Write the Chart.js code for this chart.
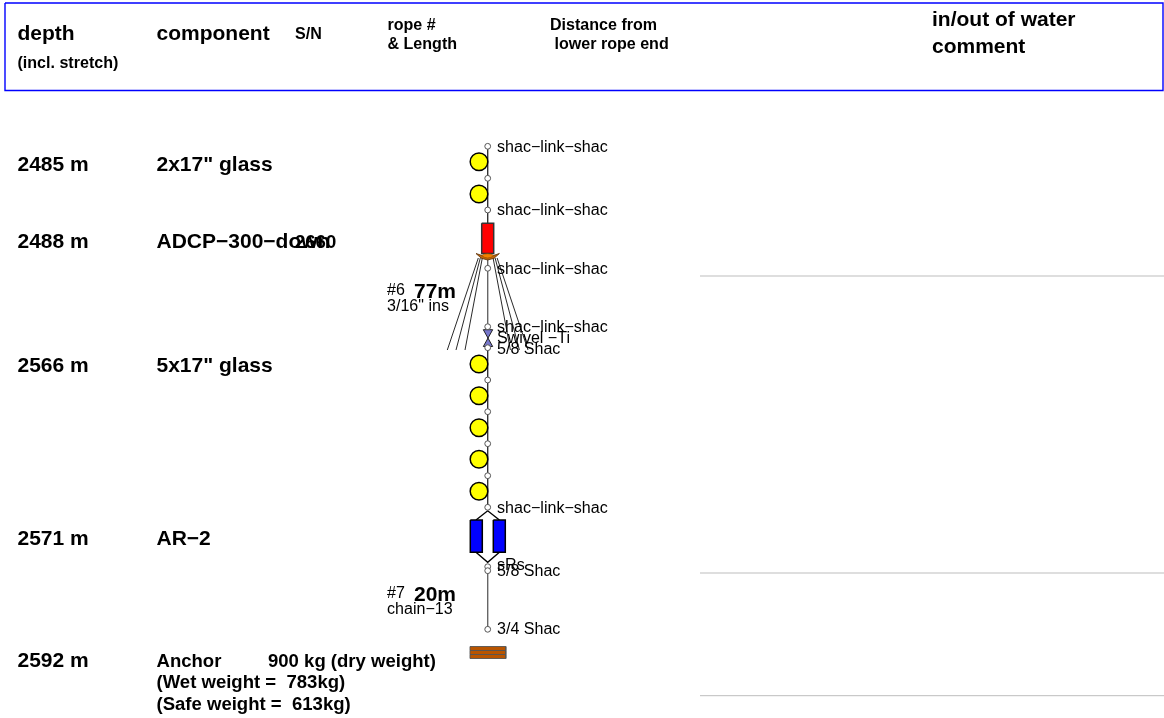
<!DOCTYPE html>
<html>
<head>
<meta charset="utf-8">
<title>Mooring diagram</title>
<script src="https://cdn.jsdelivr.net/npm/chart.js@4/dist/chart.umd.min.js"></script>
<style>
  html, body { margin: 0; padding: 0; background: #fff; }
  canvas { display: block; }
</style>
</head>
<body>
<canvas id="mooring" width="1164" height="718"></canvas>
<script>
'use strict';

// Drawing units along the sheet: x across, y downward
const LINE_X = 487.7;
const FLOAT_X = 479;

const shackleY = [146.3, 178.3, 210, 268.3, 326.7, 347.7, 380, 411.7, 443.7, 475.7, 507.3, 566.7, 570.7, 629.3];
const floatY = [161.7, 194, 364, 395.7, 427.7, 459.3, 491.3];

const ropeDarkY = [146, 223];
const ropeGreyY = [258, 347];
const ropeFloatY = [347, 507];
const ropeChainY = [570, 629];

const frameX = [5, 1163, 1163, 5, 5];
const frameY = [3, 3, 90.5, 90.5, 3];

const adcpX = [481.7, 493.7, 493.7, 481.7, 481.7];
const adcpY = [223.3, 223.3, 253.5, 253.5, 223.3];
const crescentX = [476, 482, 487.7, 493.4, 499.4, 494, 487.7, 481.4, 476];
const crescentY = [253.5, 255.5, 255.8, 255.5, 253.5, 258.3, 260, 258.3, 253.5];
const collarX = [481.5, 484.5, 487.7, 490.9, 493.9, 490.9, 487.7, 484.5, 481.5];
const collarY = [255.5, 254, 253.7, 254, 255.5, 257.4, 258, 257.4, 255.5];

const swivelX = [483.3, 492.7, 483.3, 492.7, 483.3];
const swivelY = [329.7, 329.7, 346.5, 346.5, 329.7];

const fanTopX = [478.3, 480.3, 482.3, 493.1, 495.1, 497.1];
const fanEndX = [447.3, 456, 465, 510.4, 519.4, 528];
const fanTopY = 258;
const fanEndY = 350;

const bridleTopX = [476, 487.7, 499.4];
const bridleTopY = [520, 510.8, 520];
const bridleLowX = [476, 487.7, 499.4];
const bridleLowY = [552.3, 562.3, 552.3];

const releaseLeftX = [470.3, 482.3, 482.3, 470.3, 470.3];
const releaseRightX = [493.3, 505.3, 505.3, 493.3, 493.3];
const releaseY = [520, 520, 552.3, 552.3, 520];

const anchorX = [470, 505.8, 505.8, 470, 470];
const anchorBarY = [[646.5, 646.5, 650.5, 650.5, 646.5], [650.5, 650.5, 654.5, 654.5, 650.5], [654.5, 654.5, 658.5, 658.5, 654.5]];

const ruleX = [700, 1164];
const ruleY = [276, 573, 695.7];

const depthLabels = ['2485 m', '2488 m', '2566 m', '2571 m', '2592 m'];
const depthRows = [164, 241, 365, 538, 660];
const componentLabels = ['2x17" glass', 'ADCP\u2212300\u2212down', '5x17" glass', 'AR\u22122'];
const componentRows = [164, 241, 365, 538];
const hardwareLabels = ['shac\u2212link\u2212shac', 'shac\u2212link\u2212shac', 'shac\u2212link\u2212shac', 'shac\u2212link\u2212shac', 'Swivel \u2212Ti', '5/8 Shac', 'shac\u2212link\u2212shac', 'sRs', '5/8 Shac', '3/4 Shac'];
const hardwareRows = [147, 210, 269, 327, 338, 349, 508, 565, 571, 629];
const anchorLabels = ['Anchor', '900 kg (dry weight)', '(Wet weight =  783kg)', '(Safe weight =  613kg)'];

const STRETCH = 1.03; // the sheet is a little wider than tall
const SANS = '"Liberation Sans", Arial, sans-serif';
const FONT_BIG = 20.4;
const FONT_MID = 18;
const FONT_SMALL = 15.6;
const TEXT_DY = 1.6;
const TEXT_DY_REGULAR = 0.6;

function pts(xs, ys) {
  return xs.map((x, i) => ({ x, y: ys[i] }));
}

function line(xs, ys, color, width) {
  return { data: pts(xs, ys), showLine: true, borderColor: color, borderWidth: width, pointRadius: 0, fill: false };
}

function shape(xs, ys, fill, border, width) {
  return { data: pts(xs, ys), showLine: true, borderColor: border, borderWidth: width, backgroundColor: fill, pointRadius: 0, fill: 'shape' };
}

function dots(xs, ys, radius, fill, border, width) {
  return { data: pts(xs, ys), showLine: false, pointRadius: radius, backgroundColor: fill, borderColor: border, borderWidth: width };
}

// painter's order: first in the list is at the bottom
const layers = [];
ruleY.forEach(y => layers.push(line(ruleX, [y, y], '#bdbdbd', 1)));
layers.push(line(frameX, frameY, '#0000ff', 1.4));
fanTopX.forEach((x, i) => layers.push(line([x, fanEndX[i]], [fanTopY, fanEndY], '#111', 0.9)));
layers.push(line([LINE_X, LINE_X], ropeDarkY, '#333', 1.4));
layers.push(line([LINE_X, LINE_X], ropeGreyY, '#666', 1.4));
layers.push(line([LINE_X, LINE_X], ropeFloatY, '#333', 1.4));
layers.push(line([LINE_X, LINE_X], ropeChainY, '#666', 1.4));
layers.push(dots(floatY.map(() => FLOAT_X), floatY, 8.8, '#ffff00', '#000', 1.5));
layers.push(shape(adcpX, adcpY, '#ff0000', '#333', 1.5));
layers.push(shape(crescentX, crescentY, '#c06408', '#5a2c00', 0.8));
layers.push(shape(collarX, collarY, '#f08000', '#8a4a00', 0.6));
layers.push(shape(swivelX, swivelY, '#7777cc', '#222', 1));
layers.push(line(bridleTopX, bridleTopY, '#000', 1.4));
layers.push(line(bridleLowX, bridleLowY, '#000', 1.4));
layers.push(shape(releaseLeftX, releaseY, '#0000ff', '#000', 1.5));
layers.push(shape(releaseRightX, releaseY, '#0000ff', '#000', 1.5));
anchorBarY.forEach(ys => layers.push(shape(anchorX, ys, '#b85400', '#555', 0.9)));
layers.push(dots(shackleY.map(() => LINE_X), shackleY, 2.9, '#fff', '#555', 1));
layers.forEach((d, i) => { d.order = layers.length - i; });

const textPlugin = {
  id: 'sheetText',
  afterDatasetsDraw(chart) {
    const { ctx, scales: { x: sx, y: sy } } = chart;
    const put = (str, x, y, size, bold) => {
      ctx.save();
      ctx.translate(sx.getPixelForValue(x), sy.getPixelForValue(y + (bold ? TEXT_DY : TEXT_DY_REGULAR)));
      ctx.scale(STRETCH, 1);
      ctx.font = `${bold ? 'bold ' : ''}${size}px ${SANS}`;
      ctx.fillStyle = '#000';
      ctx.textAlign = 'left';
      ctx.textBaseline = 'middle';
      ctx.fillText(str, 0, 0);
      ctx.restore();
    };

    // header
    put('depth', 17.5, 33, FONT_BIG, true);
    put('(incl. stretch)', 17.5, 62, FONT_SMALL, true);
    put('component', 156.5, 33, FONT_BIG, true);
    put('S/N', 295, 33, FONT_SMALL, true);
    put('rope #', 387.5, 24, FONT_SMALL, true);
    put('& Length', 387.5, 43, FONT_SMALL, true);
    put('Distance from', 550, 24, FONT_SMALL, true);
    put('lower rope end', 554.5, 43, FONT_SMALL, true);
    put('in/out of water', 932, 19, FONT_BIG, true);
    put('comment', 932, 46, FONT_BIG, true);

    // left columns
    depthLabels.forEach((s, i) => put(s, 17.5, depthRows[i], FONT_BIG, true));
    componentLabels.forEach((s, i) => put(s, 156.5, componentRows[i], FONT_BIG, true));
    put('2660', 295, 241, FONT_MID, true);
    put(anchorLabels[0], 156.5, 660, FONT_MID, true);
    put(anchorLabels[1], 268, 660, FONT_MID, true);
    put(anchorLabels[2], 156.5, 681, FONT_MID, true);
    put(anchorLabels[3], 156.5, 703, FONT_MID, true);

    // rope sections
    put('#6', 387, 290, FONT_SMALL, false);
    put('77m', 414, 291, FONT_BIG, true);
    put('3/16" ins', 387, 306, FONT_SMALL, false);
    put('#7', 387, 593, FONT_SMALL, false);
    put('20m', 414, 594, FONT_BIG, true);
    put('chain\u221213', 387, 609, FONT_SMALL, false);

    // hardware along the line
    hardwareLabels.forEach((s, i) => put(s, 497, hardwareRows[i], FONT_SMALL, false));
  },
};

new Chart(document.getElementById('mooring').getContext('2d'), {
  type: 'scatter',
  data: { datasets: layers },
  options: {
    responsive: false,
    animation: false,
    devicePixelRatio: 1,
    layout: { padding: 0, autoPadding: false },
    plugins: { legend: { display: false }, tooltip: { enabled: false } },
    scales: {
      x: { type: 'linear', display: false, min: 0, max: 1164 },
      y: { type: 'linear', display: false, min: 0, max: 718, reverse: true },
    },
  },
  plugins: [textPlugin],
});
</script>
</body>
</html>
